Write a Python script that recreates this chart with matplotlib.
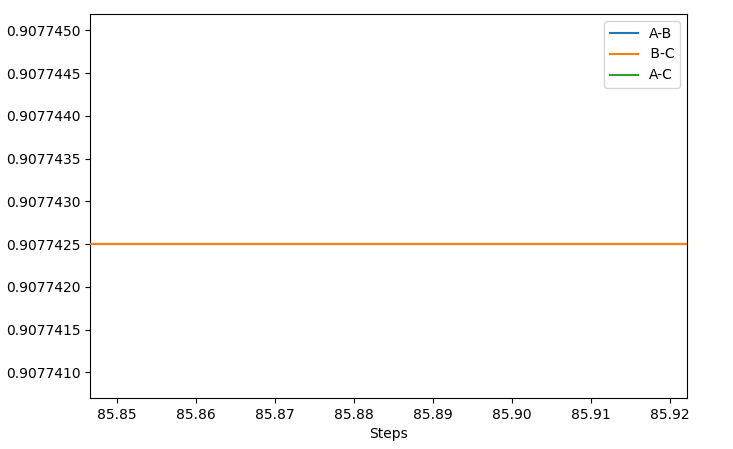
import matplotlib
matplotlib.use("Agg")
import matplotlib.pyplot as plt
from matplotlib.ticker import FormatStrFormatter

steps = [85.84, 85.93]
ab_values = [0.9077425, 0.9077425]
bc_values = [0.9077425, 0.9077425]
ac_values = [0.9077425, 0.9077425]
labels = ["A-B", "\u200aB-C", "A-C"]

fig = plt.figure(figsize=(7.33, 4.49), dpi=100)
ax = fig.add_axes([90 / 733, 1 - 398 / 449, (687 - 90) / 733, (398 - 14) / 449])
ax.plot(steps, ab_values, color="#1f77b4", label=labels[0], zorder=2)
ax.plot(steps, bc_values, color="#ff7f0e", label=labels[1], zorder=4)
ax.plot(steps, ac_values, color="#2ca02c", label=labels[2], zorder=2)
ax.set_xlim(85.84658, 85.92215)
ax.set_ylim(0.90774070, 0.90774519)
ax.yaxis.set_major_formatter(FormatStrFormatter("%.7f"))
ax.xaxis.set_major_formatter(FormatStrFormatter("%.2f"))
ax.set_xlabel("Steps")
ax.legend(loc="upper right")
fig.savefig("out.png", dpi=100)
